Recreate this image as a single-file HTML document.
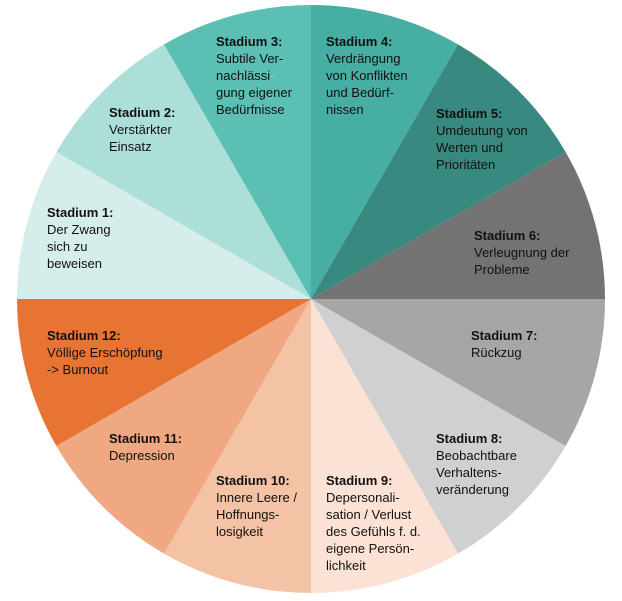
<!DOCTYPE html>
<html><head><meta charset="utf-8"><style>
html,body{margin:0;padding:0;background:#fff;}
svg{display:block;}
text{font-family:"Liberation Sans","DejaVu Sans",sans-serif;font-size:13px;fill:#111;}
.b{font-weight:bold;}
</style></head><body>
<svg width="622" height="601" viewBox="0 0 622 601">
<g>
<path d="M311,299 L311,5 A294,294 0 0 1 458,44.4Z" fill="#47aea3"/>
<path d="M311,299 L458,44.4 A294,294 0 0 1 565.6,152Z" fill="#38897f"/>
<path d="M311,299 L565.6,152 A294,294 0 0 1 605,299Z" fill="#737373"/>
<path d="M311,299 L605,299 A294,294 0 0 1 565.6,446Z" fill="#a6a6a6"/>
<path d="M311,299 L565.6,446 A294,294 0 0 1 458,553.6Z" fill="#d0d0d0"/>
<path d="M311,299 L458,553.6 A294,294 0 0 1 311,593Z" fill="#fbe2d5"/>
<path d="M311,299 L311,593 A294,294 0 0 1 164,553.6Z" fill="#f4c3a6"/>
<path d="M311,299 L164,553.6 A294,294 0 0 1 56.4,446Z" fill="#f0a882"/>
<path d="M311,299 L56.4,446 A294,294 0 0 1 17,299Z" fill="#e87434"/>
<path d="M311,299 L17,299 A294,294 0 0 1 56.4,152Z" fill="#d5eeec"/>
<path d="M311,299 L56.4,152 A294,294 0 0 1 164,44.4Z" fill="#addfd9"/>
<path d="M311,299 L164,44.4 A294,294 0 0 1 311,5Z" fill="#5bbfb4"/>
</g>
<text x="216" y="46"><tspan class="b">Stadium 3:</tspan><tspan x="216" dy="17">Subtile Ver-</tspan><tspan x="216" dy="17">nachlässi<tspan fill="#7fd0c6">-</tspan></tspan><tspan x="216" dy="17">gung eigener</tspan><tspan x="216" dy="17">Bedürfnisse</tspan></text>
<text x="326" y="46"><tspan class="b">Stadium 4:</tspan><tspan x="326" dy="17">Verdrängung</tspan><tspan x="326" dy="17">von Konflikten</tspan><tspan x="326" dy="17">und Bedürf-</tspan><tspan x="326" dy="17">nissen</tspan></text>
<text x="436" y="118"><tspan class="b">Stadium 5:</tspan><tspan x="436" dy="17">Umdeutung von</tspan><tspan x="436" dy="17">Werten und</tspan><tspan x="436" dy="17">Prioritäten</tspan></text>
<text x="109" y="117"><tspan class="b">Stadium 2:</tspan><tspan x="109" dy="17">Verstärkter</tspan><tspan x="109" dy="17">Einsatz</tspan></text>
<text x="47" y="217"><tspan class="b">Stadium 1:</tspan><tspan x="47" dy="17">Der Zwang</tspan><tspan x="47" dy="17">sich zu</tspan><tspan x="47" dy="17">beweisen</tspan></text>
<text x="474" y="240"><tspan class="b">Stadium 6:</tspan><tspan x="474" dy="17">Verleugnung der</tspan><tspan x="474" dy="17">Probleme</tspan></text>
<text x="471" y="340"><tspan class="b">Stadium 7:</tspan><tspan x="471" dy="17">Rückzug</tspan></text>
<text x="47" y="340"><tspan class="b">Stadium 12:</tspan><tspan x="47" dy="17">Völlige Erschöpfung</tspan><tspan x="47" dy="17">-&gt; Burnout</tspan></text>
<text x="109" y="443"><tspan class="b">Stadium 11:</tspan><tspan x="109" dy="17">Depression</tspan></text>
<text x="436" y="443"><tspan class="b">Stadium 8:</tspan><tspan x="436" dy="17">Beobachtbare</tspan><tspan x="436" dy="17">Verhaltens-</tspan><tspan x="436" dy="17">veränderung</tspan></text>
<text x="216" y="485"><tspan class="b">Stadium 10:</tspan><tspan x="216" dy="17">Innere Leere /</tspan><tspan x="216" dy="17">Hoffnungs-</tspan><tspan x="216" dy="17">losigkeit</tspan></text>
<text x="326" y="485"><tspan class="b">Stadium 9:</tspan><tspan x="326" dy="17">Depersonali-</tspan><tspan x="326" dy="17">sation / Verlust</tspan><tspan x="326" dy="17">des Gefühls f. d.</tspan><tspan x="326" dy="17">eigene Persön-</tspan><tspan x="326" dy="17">lichkeit</tspan></text>
</svg>
</body></html>
